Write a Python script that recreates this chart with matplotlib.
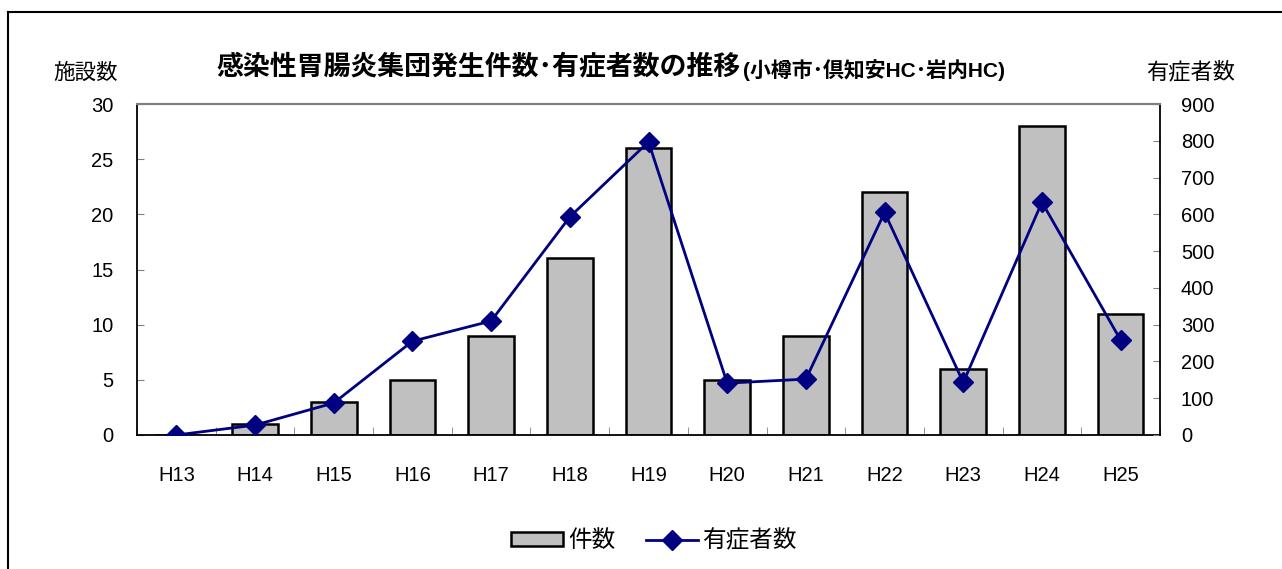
import matplotlib
matplotlib.use("Agg")
import matplotlib.pyplot as plt
import numpy as np
from matplotlib.lines import Line2D
from matplotlib.patches import Patch

plt.rcParams['font.family'] = ['Liberation Sans', 'Noto Sans CJK JP', 'DejaVu Sans']

categories = ["H13", "H14", "H15", "H16", "H17", "H18", "H19", "H20", "H21", "H22", "H23", "H24", "H25"]
cases = [0, 1, 3, 5, 9, 16, 26, 5, 9, 22, 6, 28, 11]
patients = [0, 27, 87, 255, 310, 593, 797, 141, 152, 605, 143, 633, 258]
left_ticks = [0, 5, 10, 15, 20, 25, 30]
right_ticks = [0, 100, 200, 300, 400, 500, 600, 700, 800, 900]

W, H = 1282, 569
fig = plt.figure(figsize=(W / 100, H / 100), dpi=100)
ax = fig.add_axes([137 / W, 1 - 435 / H, (1160 - 137) / W, (435 - 104) / H])
ax2 = ax.twinx()

x = np.arange(len(categories))
ax.bar(x, cases, width=0.58, color='#C0C0C0', edgecolor='black', linewidth=1.8, zorder=2)
ax2.plot(x, patients, color='#000080', linewidth=2.0, marker='D', markersize=10,
         markerfacecolor='#000080', markeredgecolor='#000080', zorder=3)

ax.set_xlim(-0.5, len(categories) - 0.5)
ax.set_ylim(0, 30)
ax2.set_ylim(0, 900)
ax.set_yticks(left_ticks)
ax2.set_yticks(right_ticks)
ax.set_xticks(x)
ax.set_xticklabels(categories)
ax.set_xticks(np.arange(len(categories) + 1) - 0.5, minor=True)

ax.tick_params(axis='x', which='major', length=0, pad=22, labelsize=14.5)
ax.tick_params(axis='x', which='minor', direction='in', length=6, color='#808080')
ax.tick_params(axis='y', direction='in', length=5, pad=17, labelsize=14.5, color='#808080')
ax2.tick_params(axis='y', direction='in', length=5, pad=15, labelsize=14.5, color='#808080')

for a in (ax, ax2):
    a.spines['top'].set_color('#808080')
    a.spines['top'].set_linewidth(1.5)
ax.spines['left'].set_color('black')
ax.spines['left'].set_linewidth(1.3)
ax.spines['bottom'].set_color('black')
ax.spines['bottom'].set_linewidth(1.3)
ax.spines['right'].set_visible(False)
ax2.spines['left'].set_visible(False)
ax2.spines['bottom'].set_visible(False)
ax2.spines['right'].set_color('black')
ax2.spines['right'].set_linewidth(1.3)

# axis titles
fig.text(85 / W, 1 - 73 / H, "施設数", ha='center', va='center', fontsize=15.5)
fig.text(1191 / W, 1 - 73 / H, "有症者数", ha='center', va='center', fontsize=16)

# title
fig.text(741 / W, 1 - 67 / H, "感染性胃腸炎集団発生件数･有症者数の推移", ha='right', va='center',
         fontsize=19.4, fontweight='bold')
fig.text(743 / W, 1 - 70 / H, "(小樽市･倶知安HC･岩内HC)", ha='left', va='center',
         fontsize=15, fontweight='bold')

# legend
handles = [Patch(facecolor='#C0C0C0', edgecolor='black', linewidth=1.8),
           Line2D([0], [0], color='#000080', linewidth=2.0, marker='D', markersize=10)]
fig.legend(handles, ["件数", "有症者数"], loc='center', bbox_to_anchor=(654 / W, 1 - 541 / H),
           ncol=2, frameon=False, fontsize=17, handlelength=2.2, handleheight=0.5,
           columnspacing=1.3, handletextpad=0.2)

# outer frame
fig.add_artist(Line2D([8 / W, 1.0], [1 - 12 / H, 1 - 12 / H], transform=fig.transFigure,
                      color='black', linewidth=1.5))
fig.add_artist(Line2D([8 / W, 8 / W], [0, 1 - 12 / H], transform=fig.transFigure,
                      color='black', linewidth=1.5))

fig.savefig("out.png", dpi=100)
